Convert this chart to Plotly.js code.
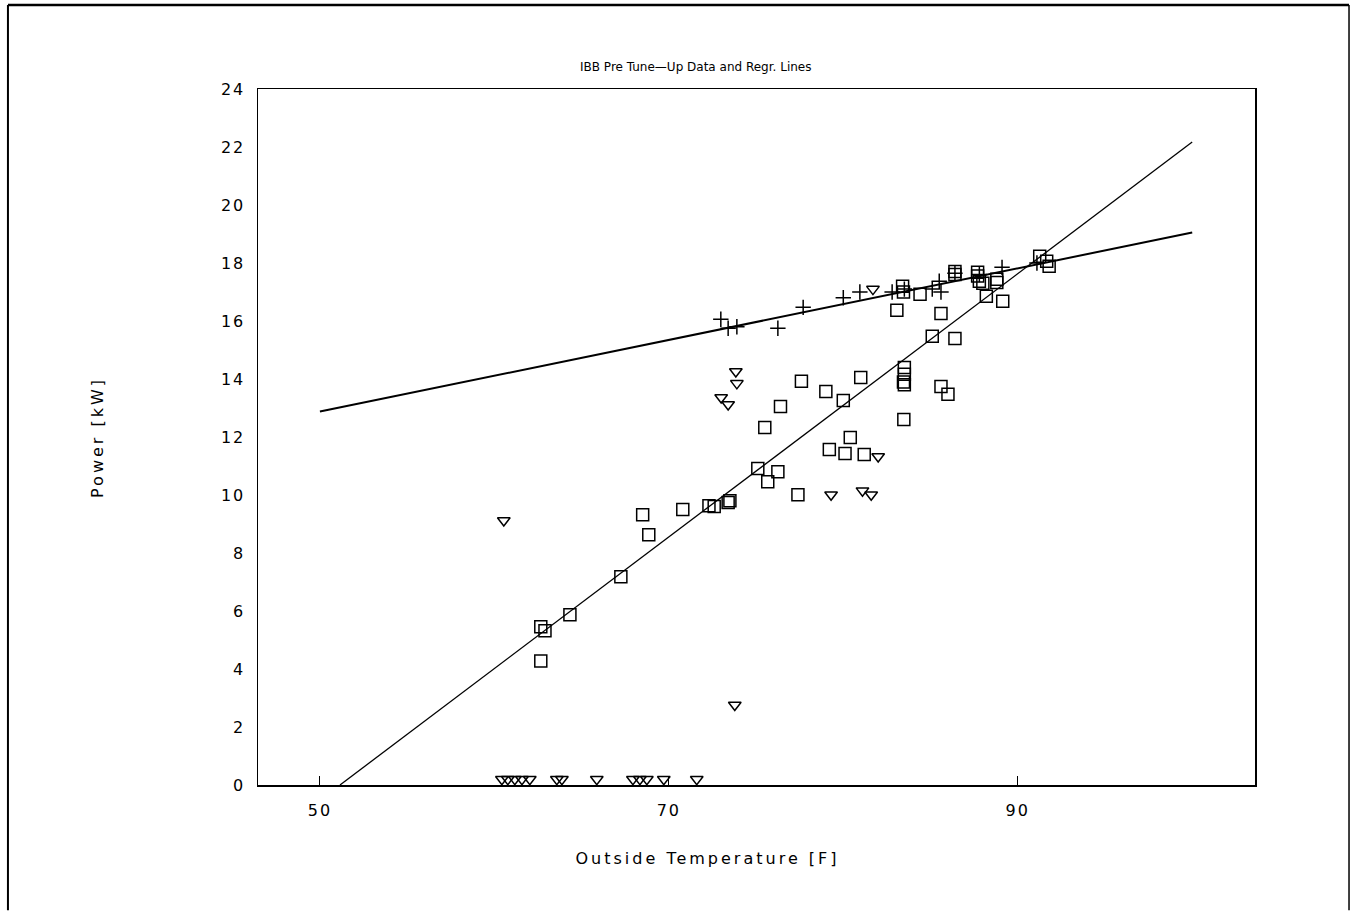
<!DOCTYPE html>
<html>
<head>
<meta charset="utf-8">
<script src="https://cdn.plot.ly/plotly-3.0.1.min.js"></script>
<style>html,body{margin:0;padding:0;background:#fff;}#chart{width:1351px;height:912px;}</style>
</head>
<body>
<div id="chart"></div>
<script>
// Squares (main data)
const sqT = [62.66,62.9,62.66,64.33,67.25,68.5,68.85,70.8,72.3,72.6,73.4,73.5,75.1,75.67,76.25,75.5,76.4,77.6,77.4,79.0,79.2,80.0,80.1,80.4,81.0,81.2,83.07,83.4,83.45,83.5,83.5,83.45,83.5,83.47,84.4,85.1,85.6,85.6,86.0,86.4,86.4,86.4,87.7,87.7,87.8,88.0,88.2,88.8,88.8,89.14,91.26,91.66,91.8];
const sqP = [5.46,5.32,4.28,5.87,7.18,9.32,8.63,9.5,9.63,9.6,9.74,9.8,10.91,10.46,10.8,12.33,13.05,13.92,10.01,13.57,11.57,13.26,11.43,11.98,14.05,11.4,16.37,17.2,17.0,14.4,14.16,13.9,13.8,12.6,16.92,15.47,16.26,13.74,13.47,15.4,17.71,17.6,17.68,17.55,17.37,17.3,16.85,17.44,17.33,16.68,18.23,18.06,17.89];
// Plus signs
const plT = [72.98,73.4,73.9,76.25,77.7,80.0,80.95,82.8,83.5,85.1,85.5,85.6,86.4,87.8,89.1,91.1];
const plP = [16.06,15.75,15.8,15.75,16.47,16.8,17.0,17.0,17.1,17.1,17.37,17.0,17.65,17.6,17.85,18.0];
// Triangles
const trT = [60.54,73.84,73.9,73.0,73.4,73.78,79.3,81.1,81.6,82.0,81.7,60.43,60.77,61.17,61.58,62.03,63.58,63.87,65.87,67.94,68.34,68.74,69.71,71.6];
const trP = [9.12,14.26,13.85,13.36,13.12,2.76,10.01,10.15,10.01,11.33,17.1,0.2,0.2,0.2,0.2,0.2,0.2,0.2,0.2,0.2,0.2,0.2,0.2,0.2];
// Regression lines (end points)
const lineT = [50, 100];
const flatLineP = [12.88, 19.05];
const steepT = [51.15, 100];
const steepP = [0, 22.17];
const xTicks = [50, 70, 90];
const yTicks = [0,2,4,6,8,10,12,14,16,18,20,22,24];

const font = "DejaVu Sans, sans-serif";
const traces = [
  {x: lineT, y: flatLineP, mode:'lines', line:{color:'#000', width:2}, hoverinfo:'skip'},
  {x: steepT, y: steepP, mode:'lines', line:{color:'#000', width:1.3}, hoverinfo:'skip'},
  {x: sqT, y: sqP, mode:'markers', marker:{symbol:'square-open', size:12, color:'#000', line:{width:1.5, color:'#000'}}},
  {x: plT, y: plP, mode:'markers', marker:{symbol:'cross-thin', size:11, color:'#000', line:{width:1.5, color:'#000'}}},
  {x: trT, y: trP, mode:'markers', marker:{symbol:'triangle-down-open', size:11, color:'#000', line:{width:1.5, color:'#000'}}}
];
const layout = {
  width:1351, height:912,
  margin:{l:258, r:96, t:89, b:127},
  paper_bgcolor:'#fff', plot_bgcolor:'#fff',
  showlegend:false,
  font:{family:font, color:'#000', size:14},
  title:{text:'IBB Pre Tune\u2014Up Data and Regr. Lines', font:{family:font, size:12, color:'#000'}, x:0.515, xanchor:'center', y:0.927, yanchor:'middle'},
  xaxis:{range:[46.45,103.6], tickvals:xTicks, ticktext:xTicks.map(String), ticks:'inside', ticklen:9, tickcolor:'#000',
    showline:true, mirror:true, linecolor:'#000', linewidth:1.5, showgrid:false, zeroline:false,
    tickfont:{family:font, size:16}, ticklabelstandoff:10},
  yaxis:{range:[0,24], tickvals:yTicks, ticktext:yTicks.map(String), ticks:'', tickcolor:'#000',
    showline:true, mirror:true, linecolor:'#000', linewidth:1.5, showgrid:false, zeroline:false,
    tickfont:{family:font, size:16}, ticklabelstandoff:8},
  annotations:[
    {text:'Outside Temperature [F]', xref:'paper', yref:'paper', x:0.451, y:-0.105, xanchor:'center', yanchor:'middle', showarrow:false, font:{family:font, size:16}},
    {text:'Power [kW]', xref:'paper', yref:'paper', x:-0.1615, y:0.5, xanchor:'center', yanchor:'middle', textangle:-90, showarrow:false, font:{family:font, size:16}}
  ],
  shapes:[
    {type:'line', xref:'paper', yref:'paper', x0:-0.2508, x1:1.0943, y0:1.1207, y1:1.1207, line:{color:'#000', width:2.5}},
    {type:'line', xref:'paper', yref:'paper', x0:-0.2508, x1:-0.2508, y0:-0.18, y1:1.1207, line:{color:'#000', width:2}},
    {type:'line', xref:'paper', yref:'paper', x0:1.0943, x1:1.0943, y0:-0.18, y1:1.1207, line:{color:'#000', width:1.5}}
  ]
};
Plotly.newPlot('chart', traces, layout, {displayModeBar:false, staticPlot:true}).then(function(gd){
  gd.querySelectorAll('.annotation-text').forEach(function(t){ t.style.letterSpacing = '3px'; });
  gd.querySelectorAll('.xtick text, .ytick text').forEach(function(t){ t.style.letterSpacing = '2px'; });
});
</script>
</body>
</html>
